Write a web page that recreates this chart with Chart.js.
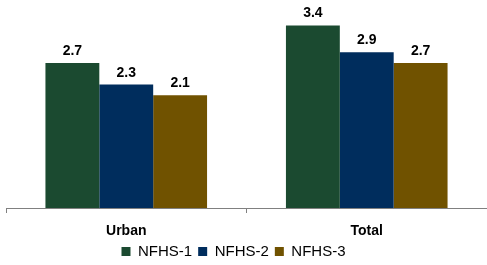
<!DOCTYPE html>
<html>
<head>
<meta charset="utf-8">
<script src="https://cdn.jsdelivr.net/npm/chart.js@4/dist/chart.umd.min.js"></script>
<style>
  html, body { margin: 0; padding: 0; background: #fff; }
  #wrap { width: 487px; height: 265px; position: relative; }
</style>
</head>
<body>
<div id="wrap"><canvas id="chart"></canvas></div>
<script>
// chart data
const categories = ["Urban", "Total"];
const seriesNames = ["NFHS-1", "NFHS-2", "NFHS-3"];
const nfhs1 = [2.7, 3.4];
const nfhs2 = [2.3, 2.9];
const nfhs3 = [2.1, 2.7];
const seriesColors = ["#1b4a30", "#002d5d", "#705200"];

const FONT = "'Liberation Sans', Arial, sans-serif";

// draws the value over each bar
const valueLabels = {
  id: "valueLabels",
  afterDatasetsDraw(chart) {
    const ctx = chart.ctx;
    ctx.save();
    ctx.font = "bold 14px " + FONT;
    ctx.fillStyle = "#000";
    ctx.textAlign = "center";
    ctx.textBaseline = "alphabetic";
    chart.data.datasets.forEach((ds, i) => {
      chart.getDatasetMeta(i).data.forEach((bar, j) => {
        ctx.fillText(ds.data[j].toFixed(1), bar.x, bar.y - 8);
      });
    });
    ctx.restore();
  }
};

// legend sits a bit left of centre in the original
const shiftLegend = {
  id: "shiftLegend",
  beforeDraw(chart) {
    chart.legend.left -= 13;
    chart.legend.right -= 13;
  }
};

const seriesData = [nfhs1, nfhs2, nfhs3];

new Chart(document.getElementById("chart").getContext("2d"), {
  type: "bar",
  data: {
    labels: categories,
    datasets: seriesNames.map((name, i) => ({
      label: name,
      data: seriesData[i],
      backgroundColor: seriesColors[i],
      borderWidth: 0,
      barPercentage: 1,
      categoryPercentage: 0.672
    }))
  },
  options: {
    responsive: true,
    maintainAspectRatio: false,
    animation: false,
    layout: { padding: { top: 4, left: 6, right: 0, bottom: -4 } },
    plugins: {
      tooltip: { enabled: false },
      legend: {
        position: "bottom",
        labels: {
          boxWidth: 9,
          boxHeight: 9,
          padding: 6,
          color: "#000",
          font: { family: FONT, size: 15 }
        }
      }
    },
    scales: {
      x: {
        afterFit(scale) { scale.height = 30; },
        grid: {
          offset: true,
          drawOnChartArea: false,
          drawTicks: true,
          tickLength: 5,
          color: "#808080"
        },
        border: { display: true, color: "#808080", width: 1 },
        ticks: {
          color: "#000",
          padding: 10,
          font: { family: FONT, size: 14, weight: "bold" }
        }
      },
      y: {
        display: false,
        min: 0,
        max: 3.8
      }
    }
  },
  plugins: [valueLabels, shiftLegend]
});
</script>
</body>
</html>
